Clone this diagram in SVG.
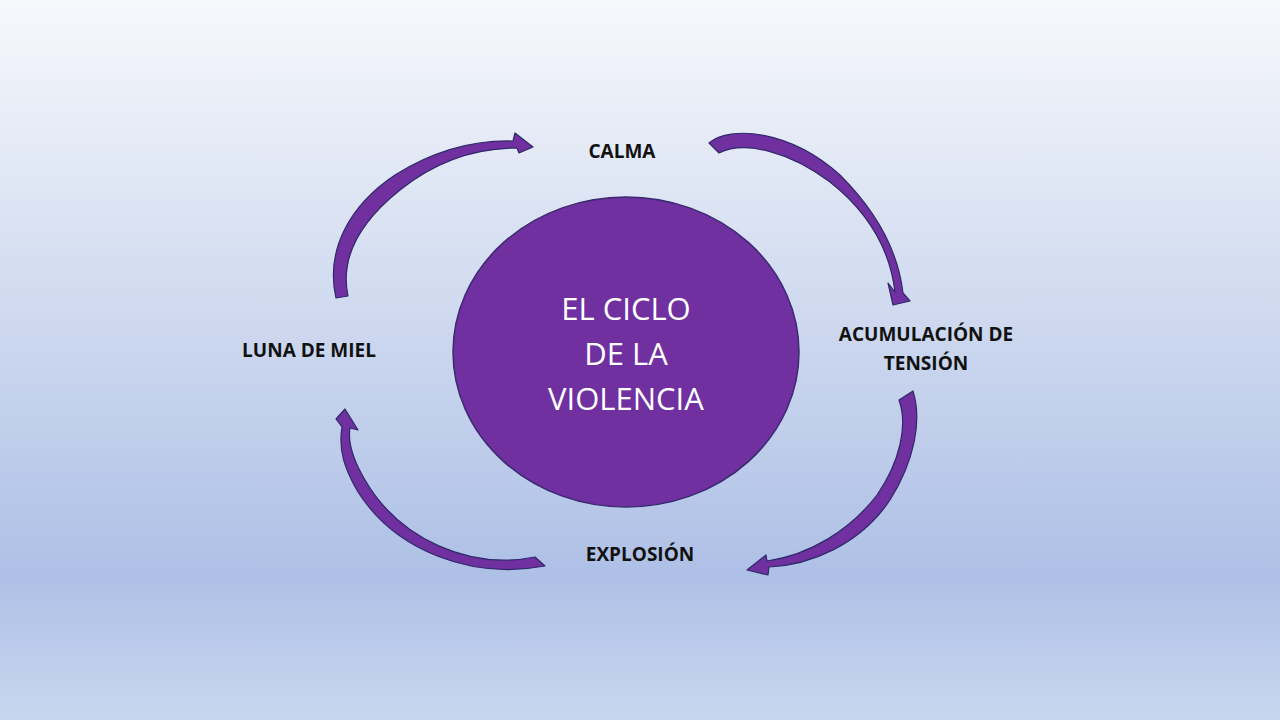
<svg xmlns="http://www.w3.org/2000/svg" width="1280" height="720" viewBox="0 0 1280 720">
<defs>
<linearGradient id="bg" x1="0" y1="0" x2="0" y2="1">
<stop offset="0" stop-color="#f7f8fc"/>
<stop offset="0.3" stop-color="#dbe3f3"/>
<stop offset="0.8" stop-color="#aec0e6"/>
<stop offset="1" stop-color="#c9d6ef"/>
</linearGradient>
<style>
.lbl{font-family:"Open Sans","Liberation Sans",sans-serif;font-weight:bold;font-size:19px;fill:#111;text-anchor:middle}
.ttl{font-family:"Open Sans","Liberation Sans",sans-serif;font-size:31px;fill:#fff;text-anchor:middle}
.arr{fill:#7030a0;stroke:#2e2a6a;stroke-width:1.2;stroke-linejoin:round}
</style>
</defs>
<rect width="1280" height="720" fill="url(#bg)"/>
<g id="center">
<ellipse cx="626" cy="352" rx="173" ry="155" fill="#7030a0" stroke="#3a2a70" stroke-width="1.5"/>
<text class="ttl" x="626" y="320">EL CICLO</text>
<text class="ttl" x="626" y="365">DE LA</text>
<text class="ttl" x="626" y="410">VIOLENCIA</text>
</g>
<g id="calma"><text class="lbl" x="622" y="158">CALMA</text></g>
<g id="tension"><text class="lbl" x="926" y="341">ACUMULACIÓN DE</text><text class="lbl" x="926" y="370">TENSIÓN</text></g>
<g id="explosion"><text class="lbl" x="640" y="561">EXPLOSIÓN</text></g>
<g id="luna"><text class="lbl" x="309" y="357">LUNA DE MIEL</text></g>
<g id="connectors">
<path class="arr" d="M709,143 C730,125 790,130 840,175 C875,210 898,250 903,293 L910,301 L893,305 L888,283 L895,292 C890,250 868,212 830,182 C790,152 745,140 719,153 Z"/>
<path class="arr" d="M336,298 C325,250 350,205 395,175 C435,150 475,140 513,141 L515,133 L533,147 L519,153 L517,148 C475,148 435,162 400,190 C360,222 340,258 348,296 Z"/>
<path class="arr" d="M913,391 C922,420 915,460 890,500 C860,545 810,565 769,567 L768,575 L747,570 L766,555 L767,561 C810,555 850,530 877,495 C900,462 908,425 899,400 Z"/>
<path class="arr" d="M535,557 C470,570 400,540 365,480 C352,458 348,440 350,428 L358,430 L345,409 L336,419 L342,427 C338,450 345,470 358,492 C395,550 470,580 545,566 Z"/>
</g>
</svg>
